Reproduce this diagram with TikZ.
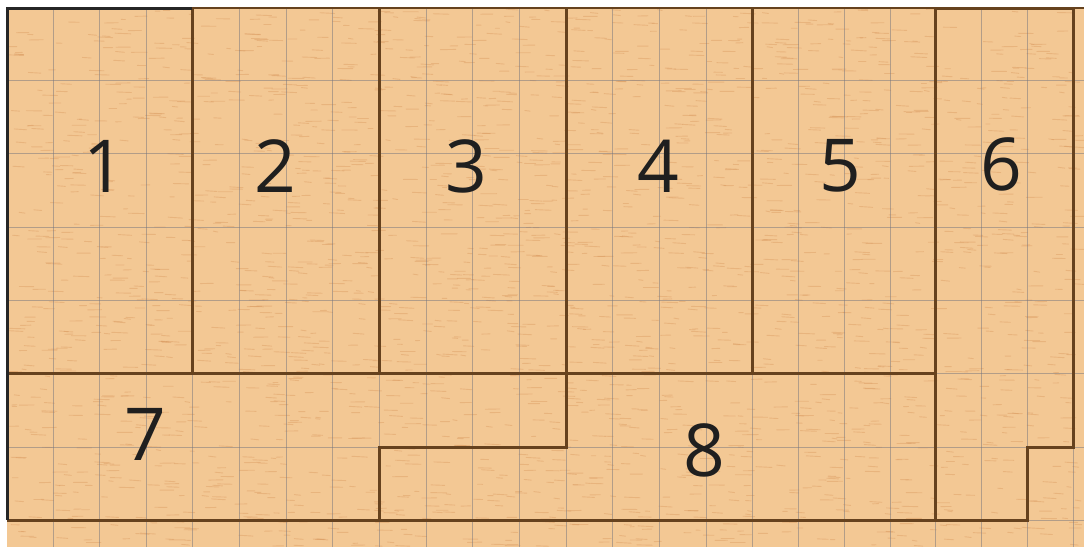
\documentclass[tikz,border=0pt]{standalone}
\usepackage{fontspec}
\setmainfont{Open Sans}
\definecolor{wood}{RGB}{243,200,148}
\definecolor{grain}{RGB}{216,150,92}
\definecolor{gridc}{RGB}{115,115,125}
\definecolor{cut}{RGB}{102,66,30}
\tikzset{
  cutline/.style={draw=cut,line width=3pt,line join=miter},
  gridline/.style={draw=gridc,line width=0.9pt,opacity=0.5},
  grainline/.style={draw=grain,line width=0.9pt,opacity=0.4,line cap=round},
  num/.style={font=\fontsize{73}{73}\selectfont,text=black!88,inner sep=0pt}
}
\begin{document}
\begin{tikzpicture}[x=1pt,y=-1pt]
\useasboundingbox (0,0) rectangle (1084,547);
\fill[white] (0,0) rectangle (1084,547);
\fill[wood] (7,7) rectangle (1084,547);
% grain
\pgfmathsetseed{7}
\foreach \i in {1,...,2400}{
  \pgfmathsetmacro\xx{7+rnd*1070}
  \pgfmathsetmacro\yy{8+rnd*538}
  \pgfmathsetmacro\ll{4+rnd*12}
  \pgfmathsetmacro\dd{rnd*1.2-0.3}
  \draw[grainline] (\xx,\yy) -- ++(\ll,\dd);
}
% vertical grid lines
\foreach \x in {53,99,146,192,239,286,332,379,426,472,519,566,612,659,706,752,798,844,890,935,981,1027,1073}{
  \draw[gridline] (\x,7) -- (\x,547);
}
% horizontal grid lines
\foreach \y in {80,153,227,300,373,447,520}{
  \draw[gridline] (7,\y) -- (1084,\y);
}
% top edge
\draw[draw=cut,line width=1.8pt] (7,8) -- (1084,8);
% pieces
\draw[cutline] (192,8) -- (192,373);
\draw[cutline] (379,8) -- (379,373);
\draw[cutline] (566,8) -- (566,447) -- (379,447) -- (379,520);
\draw[cutline] (752,8) -- (752,373);
\draw[cutline] (7,373) -- (935,373);
\draw[cutline] (7,520) -- (1027,520) -- (1027,447) -- (1073,447) -- (1073,8) -- (935,8) -- (935,520);
\draw[draw=black!85,line width=3pt] (7,7) -- (7,520);
\draw[draw=black!85,line width=3pt] (7,8) -- (192,8);
% labels
\node[num] (n1) at (104,166) {1};
\node[num] (n2) at (275,166) {2};
\node[num] (n3) at (466,166) {3};
\node[num] (n4) at (658,166) {4};
\node[num] (n5) at (840,166) {5};
\node[num] (n6) at (1001,164) {6};
\node[num] (n7) at (145,434) {7};
\node[num] (n8) at (704,450) {8};
\end{tikzpicture}
\end{document}
